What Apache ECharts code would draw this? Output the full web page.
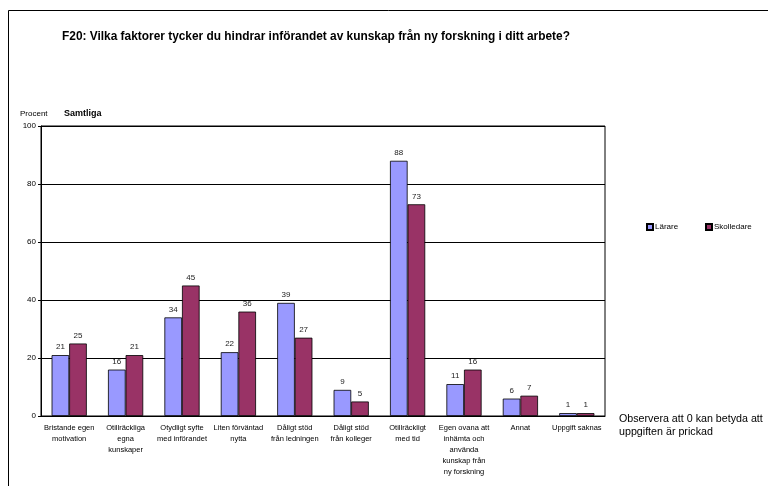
<!DOCTYPE html>
<html><head><meta charset="utf-8">
<script src="https://cdn.jsdelivr.net/npm/echarts@6/dist/echarts.min.js"></script>
<style>html,body{margin:0;padding:0;background:#fff}#c{width:768px;height:486px}</style>
</head><body><div id="c"></div>
<script>
var categories = [
  "Bristande egen\nmotivation",
  "Otillräckliga\negna\nkunskaper",
  "Otydligt syfte\nmed införandet",
  "Liten förväntad\nnytta",
  "Dåligt stöd\nfrån ledningen",
  "Dåligt stöd\nfrån kolleger",
  "Otillräckligt\nmed tid",
  "Egen ovana att\ninhämta och\nanvända\nkunskap från\nny forskning",
  "Annat",
  "Uppgift saknas"
];
var lararValues = [21, 16, 34, 22, 39, 9, 88, 11, 6, 1];
var skolledareValues = [25, 21, 45, 36, 27, 5, 73, 16, 7, 1];
var seriesNames = ["Lärare", "Skolledare"];
var yTicks = [0, 20, 40, 60, 80, 100];

var F = "'Liberation Sans', Arial, sans-serif";
var chart = echarts.init(document.getElementById('c'), null, {renderer: 'canvas'});
var labelStyle = {show: true, position: 'top', distance: 4, fontSize: 8, color: '#222', fontFamily: F};
var legendBase = {orient: 'horizontal', itemWidth: 6, itemHeight: 6, icon: 'rect',
  textStyle: {fontSize: 8, color: '#000', padding: [0, 0, 0, -3]}};
chart.setOption({
  animation: false,
  textStyle: {fontFamily: F},
  graphic: [
    {type: 'rect', shape: {x: 8.5, y: 10.5, width: 800, height: 500}, style: {fill: 'none', stroke: '#000', lineWidth: 1}},
    {type: 'text', left: 62, top: 31, style: {text: 'F20: Vilka faktorer tycker du hindrar införandet av kunskap från ny forskning i ditt arbete?', font: 'bold 11.9px ' + F, fill: '#000'}},
    {type: 'text', left: 20, top: 110, style: {text: 'Procent', font: '8px ' + F, fill: '#000'}},
    {type: 'text', left: 64, top: 109, style: {text: 'Samtliga', font: 'bold 9px ' + F, fill: '#000'}},
    {type: 'text', left: 619, top: 413, style: {text: 'Observera att 0 kan betyda att\nuppgiften är prickad', font: '10.7px ' + F, fill: '#000', lineHeight: 13}}
  ],
  legend: [
    Object.assign({left: 641, top: 218, data: [seriesNames[0]]}, legendBase),
    Object.assign({left: 700, top: 218, data: [seriesNames[1]]}, legendBase)
  ],
  grid: {left: 41, right: 163, top: 126, bottom: 70, show: true, borderColor: '#000', borderWidth: 1},
  xAxis: {
    type: 'category', data: categories,
    axisLine: {lineStyle: {color: '#000'}},
    axisTick: {show: false},
    axisLabel: {interval: 0, fontSize: 7.5, color: '#000', lineHeight: 10.8, margin: 7}
  },
  yAxis: {
    type: 'value', min: yTicks[0], max: yTicks[yTicks.length - 1], interval: 20,
    axisLine: {show: true, lineStyle: {color: '#000'}},
    axisTick: {show: true, length: 3, lineStyle: {color: '#000'}},
    axisLabel: {fontSize: 8, color: '#000', margin: 5},
    splitLine: {lineStyle: {color: '#000', width: 1}}
  },
  series: [
    {name: seriesNames[0], type: 'bar', data: lararValues, barWidth: 17.6, barGap: '0%',
     itemStyle: {color: '#9999FF', borderColor: '#000', borderWidth: 0.8}, label: labelStyle},
    {name: seriesNames[1], type: 'bar', data: skolledareValues, barWidth: 17.6, barGap: '0%',
     itemStyle: {color: '#993366', borderColor: '#000', borderWidth: 0.8}, label: labelStyle}
  ]
});
</script></body></html>
